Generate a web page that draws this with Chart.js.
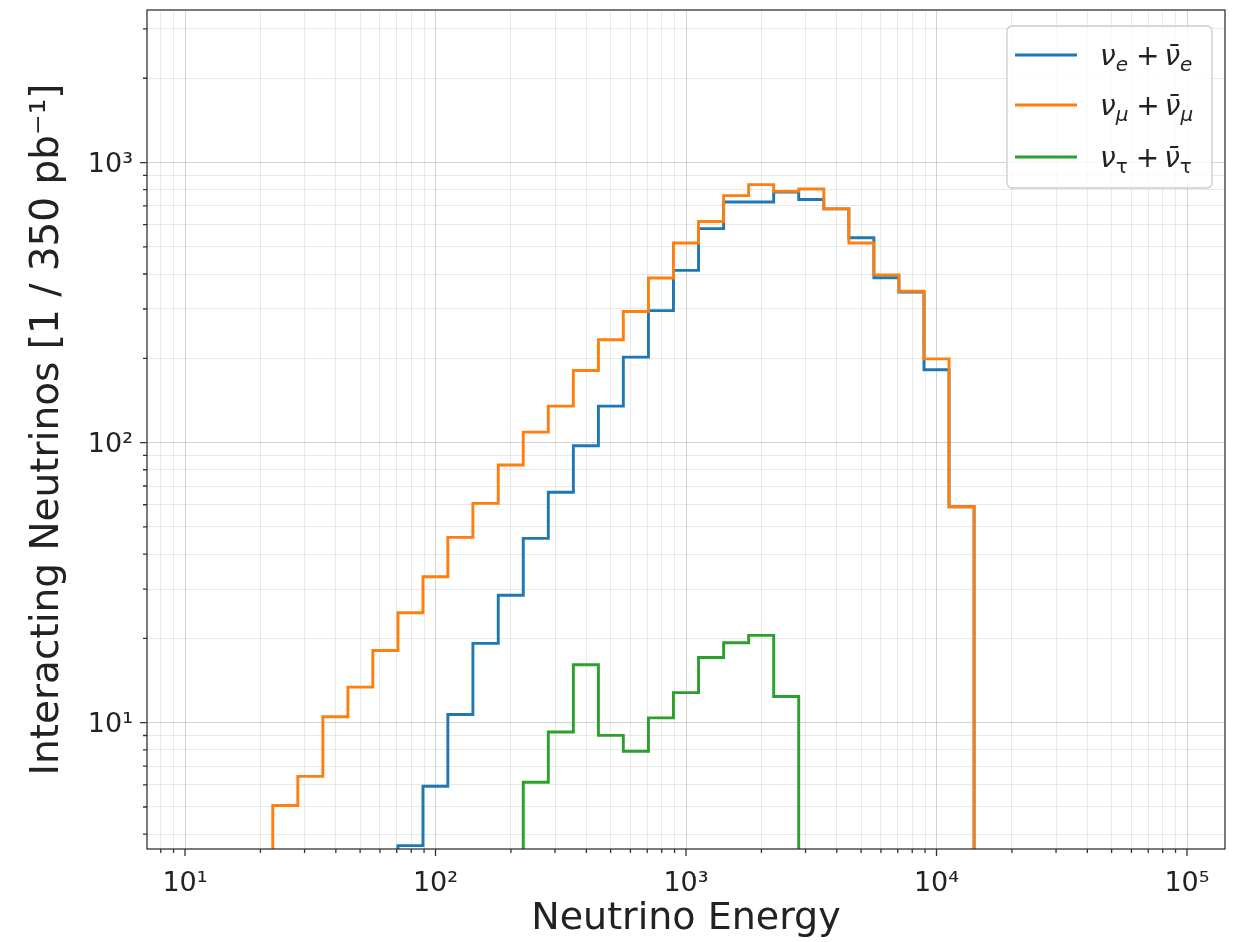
<!DOCTYPE html>
<html>
<head>
<meta charset="utf-8">
<title>Interacting neutrinos</title>
<script src="https://cdn.jsdelivr.net/npm/chart.js@4.4.1/dist/chart.umd.min.js"></script>
<style>
  html, body { margin: 0; padding: 0; background: #fff; }
  canvas { display: block; }
</style>
</head>
<body>
<canvas id="myChartNu" width="1242" height="942"></canvas>
<script>
// bin edges of the energy histogram (10 bins per decade)
const binEdges = [22.4, 28.2, 35.5, 44.7, 56.2, 70.8, 89.1, 112, 141, 178,
                  224, 282, 355, 447, 562, 708, 891, 1122, 1413, 1778,
                  2239, 2818, 3548, 4467, 5623, 7079, 8913, 11220, 14125];
// counts per bin (0 = nothing visible in that bin)
const nuE   = [0, 0, 0, 0, 0, 3.64, 5.93, 10.7, 19.2, 28.5,
               45.5, 66.5, 97.5, 135, 202, 296, 412, 581, 723, 723,
               785, 738, 683, 539, 388, 345, 182, 59];
const nuMu  = [5.06, 6.43, 10.5, 13.4, 18.1, 24.7, 33.2, 45.9, 60.7, 83.2,
               109, 135, 181, 233, 294, 387, 516, 616, 762, 834,
               789, 805, 683, 516, 397, 347, 199, 59];
const nuTau = [0, 0, 0, 0, 0, 0, 0, 0, 0, 0,
               6.13, 9.26, 16.1, 9.01, 7.91, 10.4, 12.8, 17.1, 19.3, 20.5,
               12.4, 0, 0, 0, 0, 0, 0, 0];

const flavours = ['e', 'μ', 'τ'];
const colours = ['#1f77b4', '#ff7f0e', '#2ca02c'];

const xDecades = [10, 100, 1000, 10000, 100000];
const xDecadeLabels = ['10¹', '10²', '10³', '10⁴', '10⁵'];
const yDecades = [10, 100, 1000];
const yDecadeLabels = ['10¹', '10²', '10³'];
const xRange = [7.05, 141800];
const yRange = [3.54, 3505];

Chart.defaults.font.family = "'DejaVu Sans', sans-serif";
Chart.defaults.color = '#222';

const FLOOR = 1e-3; // empty bins go below the axis like matplotlib does

function stepPoints(counts){
  const pts = [{x: binEdges[0], y: FLOOR}];
  counts.forEach((c, i) => pts.push({x: binEdges[i], y: c > 0 ? c : FLOOR}));
  const last = counts[counts.length - 1];
  pts.push({x: binEdges[counts.length], y: last > 0 ? last : FLOOR});
  pts.push({x: binEdges[counts.length], y: FLOOR});
  return pts;
}

function isMajor(v){
  const l = Math.log10(v);
  return Math.abs(l - Math.round(l)) < 1e-9;
}

function logTicks(min, max){
  const ticks = [];
  for(let e = Math.floor(Math.log10(min)); e <= Math.ceil(Math.log10(max)); e++){
    for(let m = 1; m < 10; m++){
      const v = m * Math.pow(10, e);
      if(v >= min && v <= max) ticks.push({value: v});
    }
  }
  return ticks;
}

const gridColour = c => (c.tick && isMajor(c.tick.value)) ? 'rgba(0,0,0,0.17)' : 'rgba(0,0,0,0.085)';

// frame + tick marks (major longer than minor)
const frameAndTicks = {
  id: 'frameAndTicks',
  afterDatasetsDraw(chart){
    const { ctx, chartArea: { left, right, top, bottom }, scales: { x, y } } = chart;
    ctx.save();
    ctx.strokeStyle = '#333';
    ctx.lineWidth = 1.3;
    ctx.beginPath();
    x.ticks.forEach(t => {
      const px = x.getPixelForValue(t.value);
      ctx.moveTo(px, bottom);
      ctx.lineTo(px, bottom + (isMajor(t.value) ? 7 : 4));
    });
    y.ticks.forEach(t => {
      const py = y.getPixelForValue(t.value);
      ctx.moveTo(left, py);
      ctx.lineTo(left - (isMajor(t.value) ? 7 : 4), py);
    });
    ctx.stroke();
    ctx.strokeRect(left, top, right - left, bottom - top);
    ctx.restore();
  }
};

// legend with subscripts drawn as text pieces
const nuLegend = {
  id: 'nuLegend',
  afterDraw(chart){
    const { ctx } = chart;
    const bx = 1007, by = 26, bw = 205, bh = 162, r = 5;
    ctx.save();
    ctx.beginPath();
    ctx.moveTo(bx + r, by);
    ctx.arcTo(bx + bw, by, bx + bw, by + bh, r);
    ctx.arcTo(bx + bw, by + bh, bx, by + bh, r);
    ctx.arcTo(bx, by + bh, bx, by, r);
    ctx.arcTo(bx, by, bx + bw, by, r);
    ctx.closePath();
    ctx.fillStyle = 'rgba(255,255,255,0.8)';
    ctx.fill();
    ctx.strokeStyle = '#cccccc';
    ctx.lineWidth = 1.3;
    ctx.stroke();

    const rowsY = [55, 105, 157];
    const big = "italic 28px 'DejaVu Sans'";
    const small = "italic 20px 'DejaVu Sans'";
    const plain = "28px 'DejaVu Sans'";
    flavours.forEach((f, i) => {
      const ly = rowsY[i];
      ctx.strokeStyle = colours[i];
      ctx.lineWidth = 2.8;
      ctx.beginPath();
      ctx.moveTo(1015, ly);
      ctx.lineTo(1077, ly);
      ctx.stroke();

      // tau subscript is upright in the original
      const subFont = f === 'τ' ? "20px 'DejaVu Sans'" : small;
      const pieces = [
        ['ν', big, 0, 0], [f, subFont, 6, 8],
        ['+', plain, 0, 5],
        ['ν\u0304', big, 0, 0], [f, subFont, 6, 0]
      ];
      let tx = 1100;
      const base = ly + 10;
      ctx.fillStyle = '#222';
      ctx.textBaseline = 'alphabetic';
      ctx.textAlign = 'left';
      pieces.forEach(([t, font, dy, gap]) => {
        ctx.font = font;
        ctx.fillText(t, tx, base + dy);
        tx += ctx.measureText(t).width + gap;
      });
    });
    ctx.restore();
  }
};

const datasets = [nuE, nuMu, nuTau].map((counts, i) => ({
  label: 'ν' + flavours[i],
  data: stepPoints(counts),
  borderColor: colours[i],
  borderWidth: 2.9,
  borderJoinStyle: 'miter',
  stepped: 'before',
  pointRadius: 0,
  fill: false,
  clip: 0,
  order: 3 - i
}));

const config = {
  type: 'line',
  data: { datasets },
  options: {
    responsive: false,
    animation: false,
    events: [],
    layout: { padding: { top: 10, right: 17, left: 0, bottom: 0 } },
    plugins: {
      legend: { display: false },
      tooltip: { enabled: false }
    },
    scales: {
      x: {
        type: 'logarithmic',
        min: xRange[0],
        max: xRange[1],
        bounds: 'data',
        afterBuildTicks: s => { s.ticks = logTicks(xRange[0], xRange[1]); },
        afterFit: s => { s.height = 93; s.paddingLeft = 0; s.paddingRight = 0; },
        grid: { color: gridColour, lineWidth: 1, drawTicks: false },
        border: { display: false },
        ticks: {
          autoSkip: false, maxRotation: 0, minRotation: 0, padding: 19,
          font: { size: 27 }, color: '#222',
          callback: v => { const k = xDecades.indexOf(v); return k >= 0 ? xDecadeLabels[k] : ''; }
        },
        title: {
          display: true, text: 'Neutrino Energy', color: '#222',
          font: { size: 38 }, padding: { top: 0, bottom: 0 }
        }
      },
      y: {
        type: 'logarithmic',
        min: yRange[0],
        max: yRange[1],
        bounds: 'data',
        afterBuildTicks: s => { s.ticks = logTicks(yRange[0], yRange[1]); },
        afterFit: s => { s.width = 147; s.paddingTop = 0; s.paddingBottom = 0; },
        grid: { color: gridColour, lineWidth: 1, drawTicks: false },
        border: { display: false },
        ticks: {
          autoSkip: false, padding: 14, labelOffset: 2,
          font: { size: 27 }, color: '#222',
          callback: v => { const k = yDecades.indexOf(v); return k >= 0 ? yDecadeLabels[k] : ''; }
        },
        title: {
          display: true, text: 'Interacting Neutrinos [1 / 350 pb⁻¹]', color: '#222',
          font: { size: 39 }, padding: { top: 24, bottom: 0 }
        }
      }
    }
  },
  plugins: [frameAndTicks, nuLegend]
};

const nuChart = new Chart(document.getElementById('myChartNu'), config);
</script>
</body>
</html>
